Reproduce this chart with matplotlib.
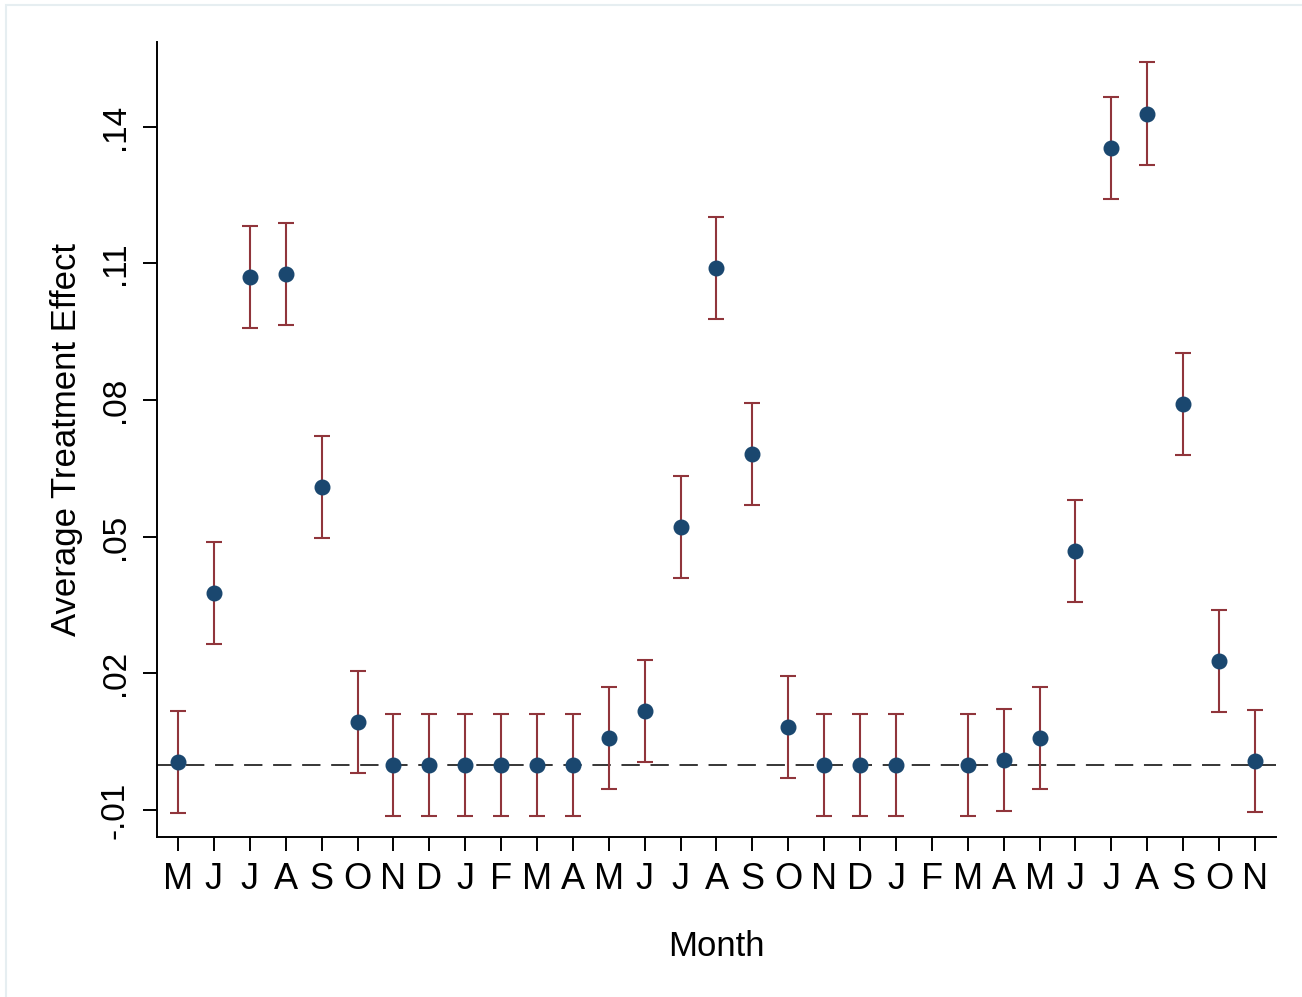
import numpy as np
import matplotlib.pyplot as plt
from matplotlib.patches import Rectangle

plt.rcParams['font.family'] = ['Liberation Sans', 'DejaVu Sans']

# Month labels (May of year 1 through November of year 3)
months = ['M', 'J', 'J', 'A', 'S', 'O', 'N', 'D', 'J', 'F', 'M', 'A',
          'M', 'J', 'J', 'A', 'S', 'O', 'N', 'D', 'J', 'F', 'M', 'A',
          'M', 'J', 'J', 'A', 'S', 'O', 'N']

# Point estimates (nan = no estimate for that month)
ate = [0.0005, 0.0376, 0.1071, 0.1077, 0.0610, 0.0093, 0.0, 0.0, 0.0, 0.0,
       0.0, 0.0, 0.0058, 0.0117, 0.0522, 0.1090, 0.0681, 0.0083, 0.0, 0.0,
       0.0, np.nan, 0.0, 0.0009, 0.0058, 0.0469, 0.1354, 0.1429, 0.0791,
       0.0228, 0.0008]

# Half-width of the confidence intervals
ci_half = [0.0112] * len(ate)

yticks = [-0.01, 0.02, 0.05, 0.08, 0.11, 0.14]
ytick_labels = ['-.01', '.02', '.05', '.08', '.11', '.14']

x = np.arange(len(months))

fig = plt.figure(figsize=(13.02, 9.97), dpi=100)
ax = fig.add_axes([0.1206, 0.1605, 0.8594, 0.7974])

# light frame around the graph region
fig.patches.append(Rectangle((6 / 1302, -0.1), 1.2, 1.1 - 5 / 997,
                             transform=fig.transFigure, fill=False,
                             edgecolor='#e6eef1', linewidth=1.5))

ax.axhline(0, color='black', linewidth=1.1, dashes=(12, 7), zorder=1)
ax.errorbar(x, ate, yerr=ci_half, fmt='none', ecolor='#90353b',
            elinewidth=1.5, capsize=6, capthick=1.5, zorder=2)
ax.plot(x, ate, 'o', color='#1a476f', markersize=10.5, zorder=3)

ax.set_xlim(-0.585, len(months) - 1 + 0.585)
ax.set_ylim(-0.0159, 0.1586)

ax.set_xticks(x)
ax.set_xticklabels(months, fontsize=26)
ax.set_yticks(yticks)
ax.set_yticklabels(ytick_labels, fontsize=24, rotation=90, va='center')

ax.tick_params(axis='x', length=10, width=1.4, pad=8)
ax.tick_params(axis='y', length=10, width=1.4, pad=9)

for side in ['top', 'right']:
    ax.spines[side].set_visible(False)
for side in ['left', 'bottom']:
    ax.spines[side].set_linewidth(1.4)

ax.set_xlabel('Month', fontsize=25, labelpad=24)
ax.set_ylabel('Average Treatment Effect', fontsize=25, labelpad=12)

fig.savefig('out.png', dpi=100)
